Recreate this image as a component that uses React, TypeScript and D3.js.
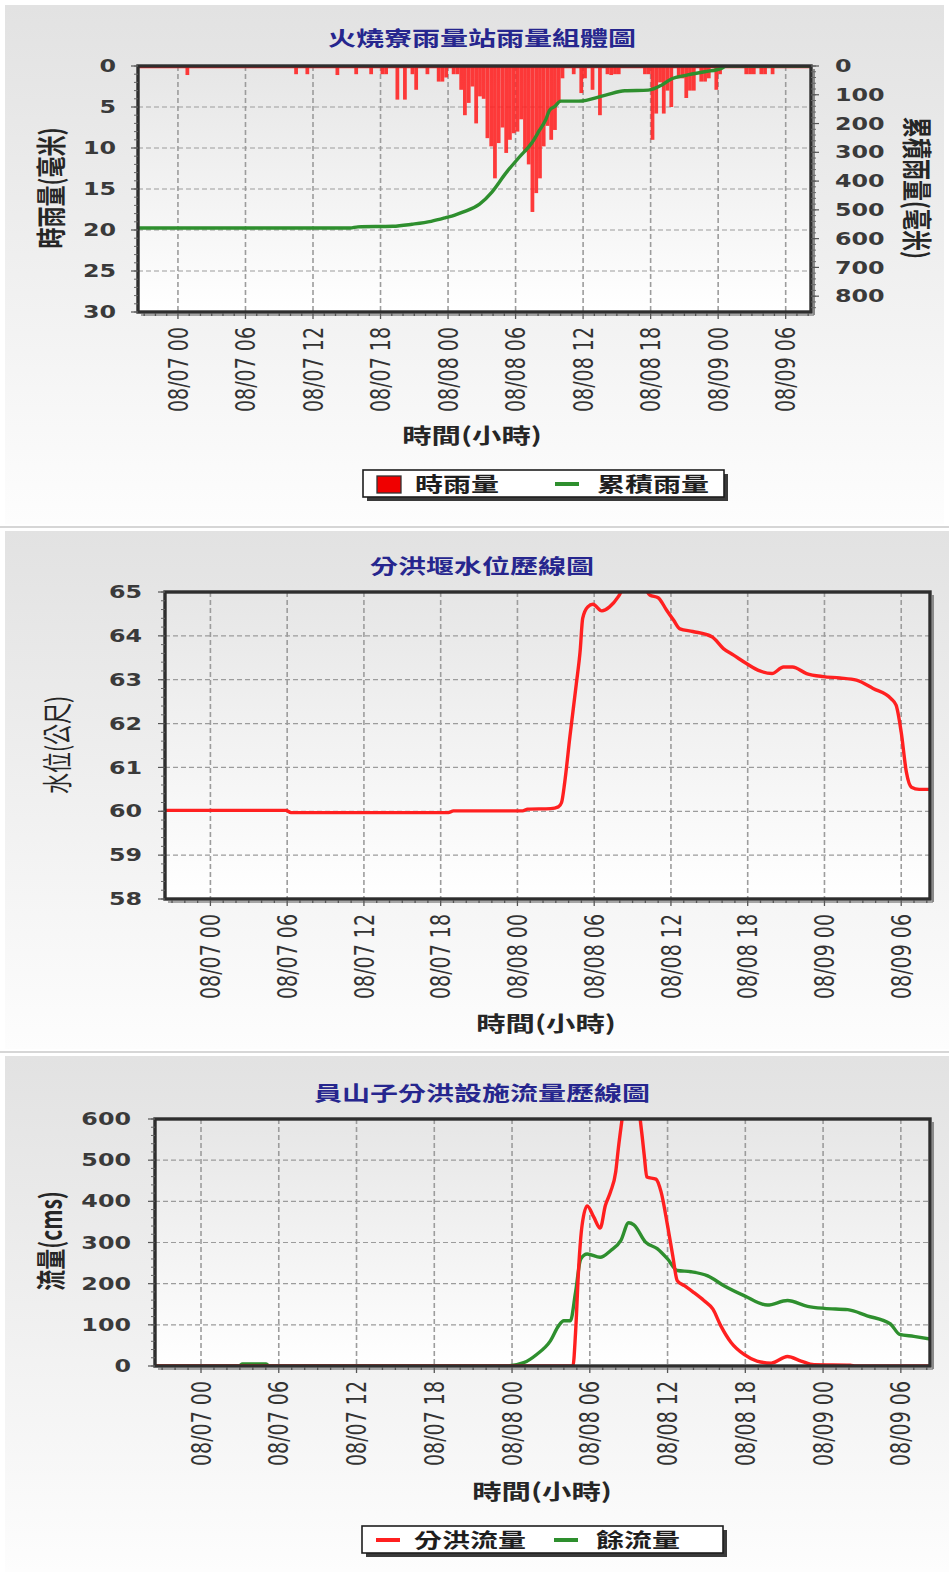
import React from 'react';
import * as d3 from 'd3';

const W = 949;
const H = 1576;
// the picture is stretched sideways, so text is stretched the same way
const SX = 1.4;
const CJK = '"Noto Sans CJK TC","Noto Sans CJK SC",sans-serif';
const NUM = '"DejaVu Sans",Verdana,sans-serif';

// hours counted from 08/07 00:00
const hourDomain = [-3.55, 56.25];
const tickHours = [0, 6, 12, 18, 24, 30, 36, 42, 48, 54];
const tickLabels = ['08/07 00', '08/07 06', '08/07 12', '08/07 18', '08/08 00', '08/08 06', '08/08 12', '08/08 18', '08/09 00', '08/09 06'];

// panel 1 - rain
const rainTicks = [0, 5, 10, 15, 20, 25, 30];
const cumTicks = [0, 100, 200, 300, 400, 500, 600, 700, 800];
const rainHour = [0.67, 10.33, 11.33, 14.0, 15.67, 17.0, 18.0, 18.33, 19.33, 20.0, 20.67, 21.0, 22.0, 23.0, 23.33, 23.67,
  24.33, 24.67, 25.0, 25.33, 25.67, 26.0, 26.33, 26.67, 27.0, 27.33, 27.67, 28.0, 28.33, 28.67, 29.0, 29.33, 29.67,
  30.0, 30.33, 30.67, 31.0, 31.33, 31.67, 32.0, 32.33, 32.67, 33.0, 33.33, 33.67, 34.0, 35.0, 35.67, 36.0, 36.67,
  37.33, 38.0, 38.33, 38.67, 39.0, 41.33, 41.67, 42.0, 42.33, 42.67, 43.0, 43.33, 43.67, 44.33, 44.67, 45.0, 45.33,
  45.67, 46.33, 46.67, 47.0, 47.67, 48.0, 50.33, 50.67, 51.0, 51.67, 52.0, 52.67];
const rainMm = [1.1, 1.0, 1.0, 1.1, 1.0, 1.0, 1.0, 1.0, 4.1, 4.1, 1.0, 2.9, 1.0, 1.9, 1.9, 1.4,
  1.0, 1.0, 2.9, 6.0, 4.5, 2.5, 7.0, 3.7, 4.0, 8.8, 9.8, 13.7, 9.4, 7.5, 10.6, 9.0, 8.2,
  8.0, 6.5, 10.5, 12.0, 17.8, 15.5, 13.7, 9.8, 7.3, 9.0, 7.8, 4.5, 1.5, 1.0, 3.3, 1.5, 2.9,
  6.0, 1.0, 1.1, 1.0, 1.0, 1.0, 1.0, 9.0, 5.8, 2.0, 5.8, 3.0, 5.0, 1.5, 1.5, 3.9, 3.0,
  3.0, 1.9, 1.9, 1.5, 2.9, 1.0, 1.0, 1.0, 1.0, 1.0, 1.0, 1.0];
const cumHour = [-3.55, 15.3, 16.0, 19.1, 20.8, 22.5, 23.8, 24.6, 25.3, 26.8, 27.9, 29.1, 30.3, 31.5, 32.1, 32.7,
  33.0, 33.5, 34.0, 35.6, 38.0, 39.7, 41.8, 43.0, 43.8, 45.3, 46.8, 48.3, 48.7, 56.25];
const cumMm = [563, 563, 559, 557, 550, 540, 527, 518, 508, 480, 438, 374, 318, 264, 225, 185,
  155, 140, 122, 122, 101, 86, 84, 66, 46, 31, 20, 8, 0, 0];

// panel 2 - water level
const levelTicks = [58, 59, 60, 61, 62, 63, 64, 65];
const levelHour = [-3.55, 5.9, 6.3, 18.6, 19.0, 24.4, 24.8, 26.6, 27.2, 27.45, 27.7, 28.1, 28.6, 28.9, 29.1, 29.5,
  29.9, 30.6, 31.2, 31.9, 32.3, 33.0, 33.8, 34.35, 35.0, 35.65, 36.2, 36.7, 37.7, 39.2, 40.1, 40.9, 41.9, 42.95,
  43.9, 44.8, 45.5, 46.6, 47.9, 49.2, 50.5, 51.8, 53.2, 53.6, 54.0, 54.4, 54.8, 55.4, 56.25];
const levelM = [60.02, 60.02, 59.97, 59.97, 60.01, 60.01, 60.05, 60.06, 60.1, 60.2, 60.67, 61.7, 62.9, 63.65, 64.4, 64.66,
  64.72, 64.57, 64.66, 64.9, 65.1, 65.2, 65.15, 64.93, 64.87, 64.59, 64.36, 64.16, 64.1, 63.98, 63.71, 63.56, 63.37, 63.2,
  63.14, 63.29, 63.29, 63.14, 63.07, 63.04, 62.99, 62.8, 62.57, 62.42, 61.8, 60.9, 60.55, 60.5, 60.5];

// panel 3 - flow
const flowTicks = [0, 100, 200, 300, 400, 500, 600];
const divHour = [-3.6, 28.7, 28.9, 29.15, 29.4, 29.8, 30.3, 30.8, 31.2, 31.6, 32.0, 32.2, 32.5, 32.7, 33.6, 34.0,
  34.2, 34.4, 35.1, 35.5, 36.0, 36.4, 36.75, 37.3, 38.0, 38.8, 39.5, 40.1, 40.9, 41.9, 42.9, 44.0, 45.25, 46.3,
  47.3, 50.1, 50.5, 56.4];
const divCms = [0, 0, 81, 244, 341, 389, 362, 335, 390, 423, 472, 528, 602, 650, 650, 569,
  512, 459, 454, 423, 341, 268, 207, 195, 179, 159, 138, 98, 57, 28, 12, 7, 23, 12,
  3, 2, 0, 0];
const resHour = [-3.6, 2.9, 3.2, 5.0, 5.3, 23.6, 24.9, 25.9, 26.96, 27.6, 27.99, 28.5, 28.9, 29.3, 29.8, 30.8,
  31.6, 32.4, 33.0, 33.4, 34.3, 35.2, 36.0, 36.75, 37.8, 39.1, 40.35, 41.9, 43.7, 45.25, 46.8, 48.1, 49.9, 51.4,
  53.2, 53.9, 55.0, 56.4];
const resCms = [0, 0, 5, 5, 0, 0, 8, 28, 61, 98, 110, 110, 179, 260, 272, 264,
  280, 305, 348, 343, 301, 285, 260, 232, 229, 219, 195, 171, 148, 159, 145, 140, 137, 122,
  102, 77, 72, 65];

const RED = '#ff2020';
const GREEN = '#2e8f2e';

type Box = { l: number; r: number; t: number; b: number };

function SText(p: any) {
  const { x, y, rot = 0, anchor = 'middle', size, fill = '#262626', family = CJK, weight = 'normal', dy } = p;
  return (
    <g transform={`translate(${x},${y}) scale(${SX},1) rotate(${rot})`}>
      <text textAnchor={anchor} fontSize={size} fill={fill} fontFamily={family} fontWeight={weight} dy={dy}>
        {p.children}
      </text>
    </g>
  );
}

function Plot(p: any) {
  const { id, box, xs, ys, yTicks, yMinor, yLabelX, right, children } = p;
  const { l, r, t, b } = box as Box;
  const yDom = ys.domain();
  const minor = d3.range(Math.min(yDom[0], yDom[1]), Math.max(yDom[0], yDom[1]) + 1e-6, yMinor);
  const hours = d3.range(Math.ceil(hourDomain[0]), hourDomain[1]);
  return (
    <g>
      <defs>
        <clipPath id={id}>
          <rect x={l} y={t} width={r - l} height={b - t} />
        </clipPath>
      </defs>
      <rect x={l} y={t} width={r - l} height={b - t} fill="url(#plotBg)" />
      {tickHours.map(h => (
        <line key={'v' + h} x1={xs(h)} x2={xs(h)} y1={t} y2={b} stroke="#9c9c9c" strokeWidth={1.6} strokeDasharray="5 3" />
      ))}
      {yTicks.map((v: number) => (
        <line key={'h' + v} x1={l} x2={r} y1={ys(v)} y2={ys(v)} stroke="#9c9c9c" strokeWidth={1.2} strokeDasharray="5 3" />
      ))}
      <g clipPath={`url(#${id})`}>{children}</g>
      {/* frame with a little shadow */}
      <line x1={r + 3} x2={r + 3} y1={t + 3} y2={b + 3} stroke="#8a8a8a" strokeWidth={2} />
      <line x1={l + 3} x2={r + 3} y1={b + 3} y2={b + 3} stroke="#8a8a8a" strokeWidth={1.5} />
      <rect x={l} y={t} width={r - l} height={b - t} fill="none" stroke="#2e2e2e" strokeWidth={3.4} />
      {/* x ticks */}
      {hours.map(h => (
        <line key={'xt' + h} x1={xs(h)} x2={xs(h)} y1={b + 1} y2={b + (h % 6 === 0 ? 7 : 4)} stroke="#555" strokeWidth={1.3} />
      ))}
      {tickHours.map((h, i) => (
        <SText key={'xl' + h} x={xs(h)} y={b + 15} rot={-90} anchor="end" size={19} family={NUM} fill="#333" dy="0.36em">
          {tickLabels[i]}
        </SText>
      ))}
      {/* left y axis */}
      {minor.map((v: number) => (
        <line key={'ym' + v} x1={l - 4} x2={l} y1={ys(v)} y2={ys(v)} stroke="#666" strokeWidth={1} />
      ))}
      {yTicks.map((v: number) => (
        <g key={'yl' + v}>
          <line x1={l - 7} x2={l} y1={ys(v)} y2={ys(v)} stroke="#555" strokeWidth={1.2} />
          <SText x={yLabelX} y={ys(v)} anchor="end" size={17} family={NUM} weight="bold" fill="#3a3a3a" dy="0.36em">{v}</SText>
        </g>
      ))}
      {right}
    </g>
  );
}

function Legend(p: any) {
  const { x, y, items } = p;
  const w = 361;
  const h = 27;
  const slots = [[14, 52], [192, 234]];
  return (
    <g>
      <rect x={x + 4} y={y + 4} width={w} height={h} fill="#3a3a3a" />
      <rect x={x} y={y} width={w} height={h} fill="#fff" stroke="#1e1e1e" strokeWidth={1.6} />
      {items.map((it: any, i: number) => {
        const [sx, tx] = slots[i];
        return (
          <g key={it.label}>
            {it.kind === 'rect'
              ? <rect x={x + sx} y={y + 6} width={24} height={17} fill="#f00000" stroke="#333" strokeWidth={1.3} />
              : <line x1={x + sx} x2={x + sx + 24} y1={y + 14} y2={y + 14} stroke={it.color} strokeWidth={4} />}
            <SText x={x + tx} y={y + 22} anchor="start" size={20} weight="bold" fill="#1e1e1e">{it.label}</SText>
          </g>
        );
      })}
    </g>
  );
}

function Title(p: any) {
  return <SText x={482} y={p.y} size={20} weight="bold" fill="#26268e">{p.children}</SText>;
}

export default function App() {
  // panel 1
  const b1: Box = { l: 138, r: 811, t: 66, b: 312 };
  const xs1 = d3.scaleLinear().domain(hourDomain).range([b1.l, b1.r]);
  const ys1 = d3.scaleLinear().domain([0, 30]).range([b1.t, b1.b]);
  const cs1 = d3.scaleLinear().domain([0, 855]).range([b1.t, b1.b]);
  const barW = xs1(1 / 3) - xs1(0);
  const cumLine = d3.line<number>().x((_, i) => xs1(cumHour[i])).y(d => cs1(d)).curve(d3.curveMonotoneX);

  // panel 2
  const b2: Box = { l: 165, r: 930, t: 592, b: 899 };
  const xs2 = d3.scaleLinear().domain(hourDomain).range([b2.l, b2.r]);
  const ys2 = d3.scaleLinear().domain([58, 65]).range([b2.b, b2.t]);
  const levelLine = d3.line<number>().x((_, i) => xs2(levelHour[i])).y(d => ys2(d)).curve(d3.curveMonotoneX);

  // panel 3
  const b3: Box = { l: 155, r: 930, t: 1119, b: 1366 };
  const xs3 = d3.scaleLinear().domain(hourDomain).range([b3.l, b3.r]);
  const ys3 = d3.scaleLinear().domain([0, 600]).range([b3.b, b3.t]);
  const divLine = d3.line<number>().x((_, i) => xs3(divHour[i])).y(d => ys3(d)).curve(d3.curveMonotoneX);
  const resLine = d3.line<number>().x((_, i) => xs3(resHour[i])).y(d => ys3(d)).curve(d3.curveMonotoneX);

  const cumMinor = d3.range(0, 856, 20);

  const rightAxis = (
    <g>
      {cumMinor.map(v => (
        <line key={'cm' + v} x1={b1.r} x2={b1.r + 5} y1={cs1(v)} y2={cs1(v)} stroke="#666" strokeWidth={1} />
      ))}
      {cumTicks.map(v => (
        <g key={'cr' + v}>
          <line x1={b1.r} x2={b1.r + 8} y1={cs1(v)} y2={cs1(v)} stroke="#555" strokeWidth={1.2} />
          <SText x={835} y={cs1(v)} anchor="start" size={17} family={NUM} weight="bold" fill="#3a3a3a" dy="0.36em">{v}</SText>
        </g>
      ))}
    </g>
  );

  return (
    <svg width={W} height={H} style={{ position: 'absolute', left: 0, top: 0, background: '#fff' }}>
      <defs>
        <linearGradient id="panelBg" x1="0" y1="0" x2="0" y2="1">
          <stop offset="0" stopColor="#e2e2e2" />
          <stop offset="1" stopColor="#fdfdfd" />
        </linearGradient>
        <linearGradient id="plotBg" x1="0" y1="0" x2="0" y2="1">
          <stop offset="0" stopColor="#e6e6e6" />
          <stop offset="1" stopColor="#ffffff" />
        </linearGradient>
      </defs>

      {/* backgrounds */}
      <rect x={5} y={5} width={939} height={519} fill="url(#panelBg)" />
      <line x1={0} x2={W} y1={527} y2={527} stroke="#c8c8c8" strokeWidth={1.5} />
      <rect x={5} y={531} width={944} height={518} fill="url(#panelBg)" />
      <line x1={0} x2={W} y1={1052} y2={1052} stroke="#c8c8c8" strokeWidth={1.5} />
      <rect x={5} y={1056} width={944} height={516} fill="url(#panelBg)" />

      {/* panel 1 */}
      <Title y={46}>火燒寮雨量站雨量組體圖</Title>
      <Plot id="clip1" box={b1} xs={xs1} ys={ys1} yTicks={rainTicks} yMinor={1} yLabelX={116} right={rightAxis}>
        <line x1={b1.l} x2={b1.r} y1={ys1(0) + 1.5} y2={ys1(0) + 1.5} stroke={RED} strokeWidth={1.5} />
        {rainMm.map((v, i) => (
          <rect key={'bar' + i} x={xs1(rainHour[i])} y={ys1(0)} width={barW} height={ys1(v) - ys1(0)} fill={RED} opacity={0.88} />
        ))}
        <path d={cumLine(cumMm) || ''} fill="none" stroke={GREEN} strokeWidth={3.4} />
      </Plot>
      <SText x={51} y={188} rot={-90} size={21} weight="bold" dy="0.36em">時雨量(毫米)</SText>
      <SText x={917} y={188} rot={90} size={21} weight="bold" dy="0.36em">累積雨量(毫米)</SText>
      <SText x={472} y={443} size={21} weight="bold">時間(小時)</SText>
      <Legend x={363} y={470} items={[{ kind: 'rect', label: '時雨量' }, { kind: 'line', color: GREEN, label: '累積雨量' }]} />

      {/* panel 2 */}
      <Title y={574}>分洪堰水位歷線圖</Title>
      <Plot id="clip2" box={b2} xs={xs2} ys={ys2} yTicks={levelTicks} yMinor={0.2} yLabelX={142}>
        <path d={levelLine(levelM) || ''} fill="none" stroke={RED} strokeWidth={3.4} />
      </Plot>
      <SText x={57} y={745} rot={-90} size={21} dy="0.36em">水位(公尺)</SText>
      <SText x={546} y={1031} size={21} weight="bold">時間(小時)</SText>

      {/* panel 3 */}
      <Title y={1101}>員山子分洪設施流量歷線圖</Title>
      <Plot id="clip3" box={b3} xs={xs3} ys={ys3} yTicks={flowTicks} yMinor={20} yLabelX={131}>
        <path d={resLine(resCms) || ''} fill="none" stroke={GREEN} strokeWidth={3.4} />
        <path d={divLine(divCms) || ''} fill="none" stroke={RED} strokeWidth={3.4} />
      </Plot>
      <SText x={51} y={1241} rot={-90} size={21} weight="bold" dy="0.36em">流量(cms)</SText>
      <SText x={542} y={1499} size={21} weight="bold">時間(小時)</SText>
      <Legend x={362} y={1526} items={[{ kind: 'line', color: RED, label: '分洪流量' }, { kind: 'line', color: GREEN, label: '餘流量' }]} />
    </svg>
  );
}
